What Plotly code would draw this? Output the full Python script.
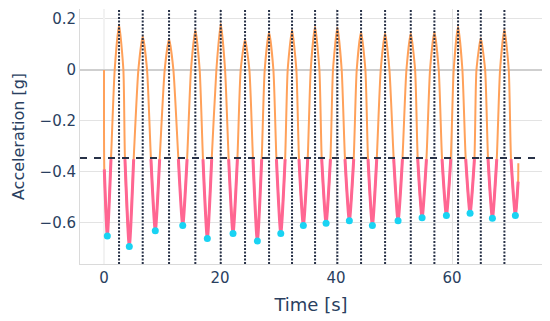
import plotly.graph_objects as go

# ---- data ----
THRESHOLD_G = -0.345

# samples per gait cycle: trough, threshold crossing, shoulder, peak, shoulder, threshold crossing
time_s = [
    0.00, 0.05, 0.57,
    1.20, 1.84, 2.59, 3.34, 3.61, 4.36,
    5.11, 5.92, 6.67, 7.42, 8.09, 8.84,
    9.59, 10.46, 11.21, 11.96, 12.82, 13.57,
    14.32, 14.99, 15.74, 16.49, 17.06, 17.81,
    18.56, 19.37, 20.12, 20.87, 21.49, 22.24,
    22.99, 23.56, 24.31, 25.06, 25.68, 26.43,
    27.18, 27.70, 28.45, 29.20, 29.72, 30.47,
    31.22, 31.66, 32.41, 33.16, 33.61, 34.36,
    35.11, 35.63, 36.38, 37.13, 37.53, 38.28,
    39.03, 39.47, 40.22, 40.97, 41.54, 42.29,
    43.04, 43.56, 44.31, 45.06, 45.51, 46.26,
    47.01, 47.70, 48.45, 49.20, 49.94, 50.69,
    51.44, 52.13, 52.88, 53.63, 54.08, 54.83,
    55.58, 56.20, 56.95, 57.70, 58.27, 59.02,
    59.77, 60.28, 61.03, 61.78, 62.35, 63.10,
    63.85, 64.20, 64.95, 65.70, 66.20, 66.95,
    67.70, 68.27, 69.02, 69.77, 70.16, 70.91,
    71.38, 71.42,
]
accel_g = [
    0.000, -0.390, -0.651,
    -0.350, 0.000, 0.178, 0.000, -0.350, -0.692,
    -0.350, 0.000, 0.132, 0.000, -0.350, -0.631,
    -0.350, 0.000, 0.122, 0.000, -0.350, -0.610,
    -0.350, 0.000, 0.157, 0.000, -0.350, -0.661,
    -0.350, 0.000, 0.182, 0.000, -0.350, -0.641,
    -0.350, 0.000, 0.120, 0.000, -0.350, -0.671,
    -0.350, 0.000, 0.148, 0.000, -0.350, -0.641,
    -0.350, 0.000, 0.157, 0.000, -0.350, -0.610,
    -0.350, 0.000, 0.170, 0.000, -0.350, -0.601,
    -0.350, 0.000, 0.166, 0.000, -0.350, -0.591,
    -0.350, 0.000, 0.150, 0.000, -0.350, -0.610,
    -0.350, 0.000, 0.144, 0.000, -0.350, -0.591,
    -0.350, 0.000, 0.144, 0.000, -0.350, -0.580,
    -0.350, 0.000, 0.150, 0.000, -0.350, -0.571,
    -0.350, 0.000, 0.170, 0.000, -0.350, -0.562,
    -0.350, 0.000, 0.125, 0.000, -0.350, -0.582,
    -0.350, 0.000, 0.160, 0.000, -0.350, -0.571,
    -0.438, -0.366,
]

peak_t = [2.59, 6.67, 11.21, 15.74, 20.12, 24.31, 28.45, 32.41, 36.38,
          40.22, 44.31, 48.45, 52.88, 56.95, 61.03, 64.95, 69.02]

trough_t = [0.57, 4.36, 8.84, 13.57, 17.81, 22.24, 26.43, 30.47, 34.36,
            38.28, 42.29, 46.26, 50.69, 54.83, 59.02, 63.10, 66.95, 70.91]
trough_g = [-0.651, -0.692, -0.631, -0.610, -0.661, -0.641, -0.671, -0.641,
            -0.610, -0.601, -0.591, -0.610, -0.591, -0.580, -0.571, -0.562,
            -0.582, -0.571]

# segments below threshold (last sample belongs to the swing phase)
below = [v < THRESHOLD_G for v in accel_g]
below[-1] = False
pink_g = [v if b else None for v, b in zip(accel_g, below)]

FONT = "DejaVu Sans"
TXT = "#2a3f5f"
DARK = "#283248"

fig = go.Figure()
fig.add_trace(go.Scatter(x=time_s, y=accel_g, mode="lines",
                         line=dict(color="#FFA15A", width=2, shape="spline", smoothing=0.55),
                         showlegend=False))
fig.add_trace(go.Scatter(x=time_s, y=pink_g, mode="lines", connectgaps=False,
                         line=dict(color="#FF6692", width=3, shape="spline", smoothing=0.6),
                         showlegend=False))
fig.add_trace(go.Scatter(x=trough_t, y=trough_g, mode="markers",
                         marker=dict(color="#19D3F3", size=7),
                         showlegend=False))

for t in peak_t:
    fig.add_vline(x=t, line=dict(color=DARK, width=2, dash="2px,1.5px"), layer="above")
fig.add_hline(y=THRESHOLD_G, line=dict(color=DARK, width=2, dash="7px,7px"), layer="above")

# page body adds an 8px offset, so the figure is sized 8px smaller
fig.update_layout(
    template="plotly_white",
    width=542, height=313,
    margin=dict(l=72, r=8, t=1, b=57),
    font=dict(family=FONT, color=TXT, size=15),
    plot_bgcolor="white",
    xaxis=dict(range=[-4.14, 75.5], tickvals=[0, 20, 40, 60],
               title=dict(text="Time [s]", font=dict(size=18), standoff=12),
               automargin=False,
               showgrid=True, gridcolor="#E3E3E3", gridwidth=1,
               zeroline=True, zerolinecolor="#F2F2F2", zerolinewidth=2,
               showline=True, linecolor="#DADADA", linewidth=1,
               tickfont=dict(size=15)),
    yaxis=dict(range=[-0.761, 0.239], tickvals=[-0.6, -0.4, -0.2, 0, 0.2],
               ticktext=["\u22120.6", "\u22120.4", "\u22120.2", "0", "0.2"],
               title=dict(text="Acceleration [g]", font=dict(size=16), standoff=10),
               automargin=False,
               showgrid=True, gridcolor="#E3E3E3", gridwidth=1,
               zeroline=True, zerolinecolor="#CFCFCF", zerolinewidth=2,
               showline=True, linecolor="#DADADA", linewidth=1,
               tickfont=dict(size=15)),
)

fig.write_html("out.html")
